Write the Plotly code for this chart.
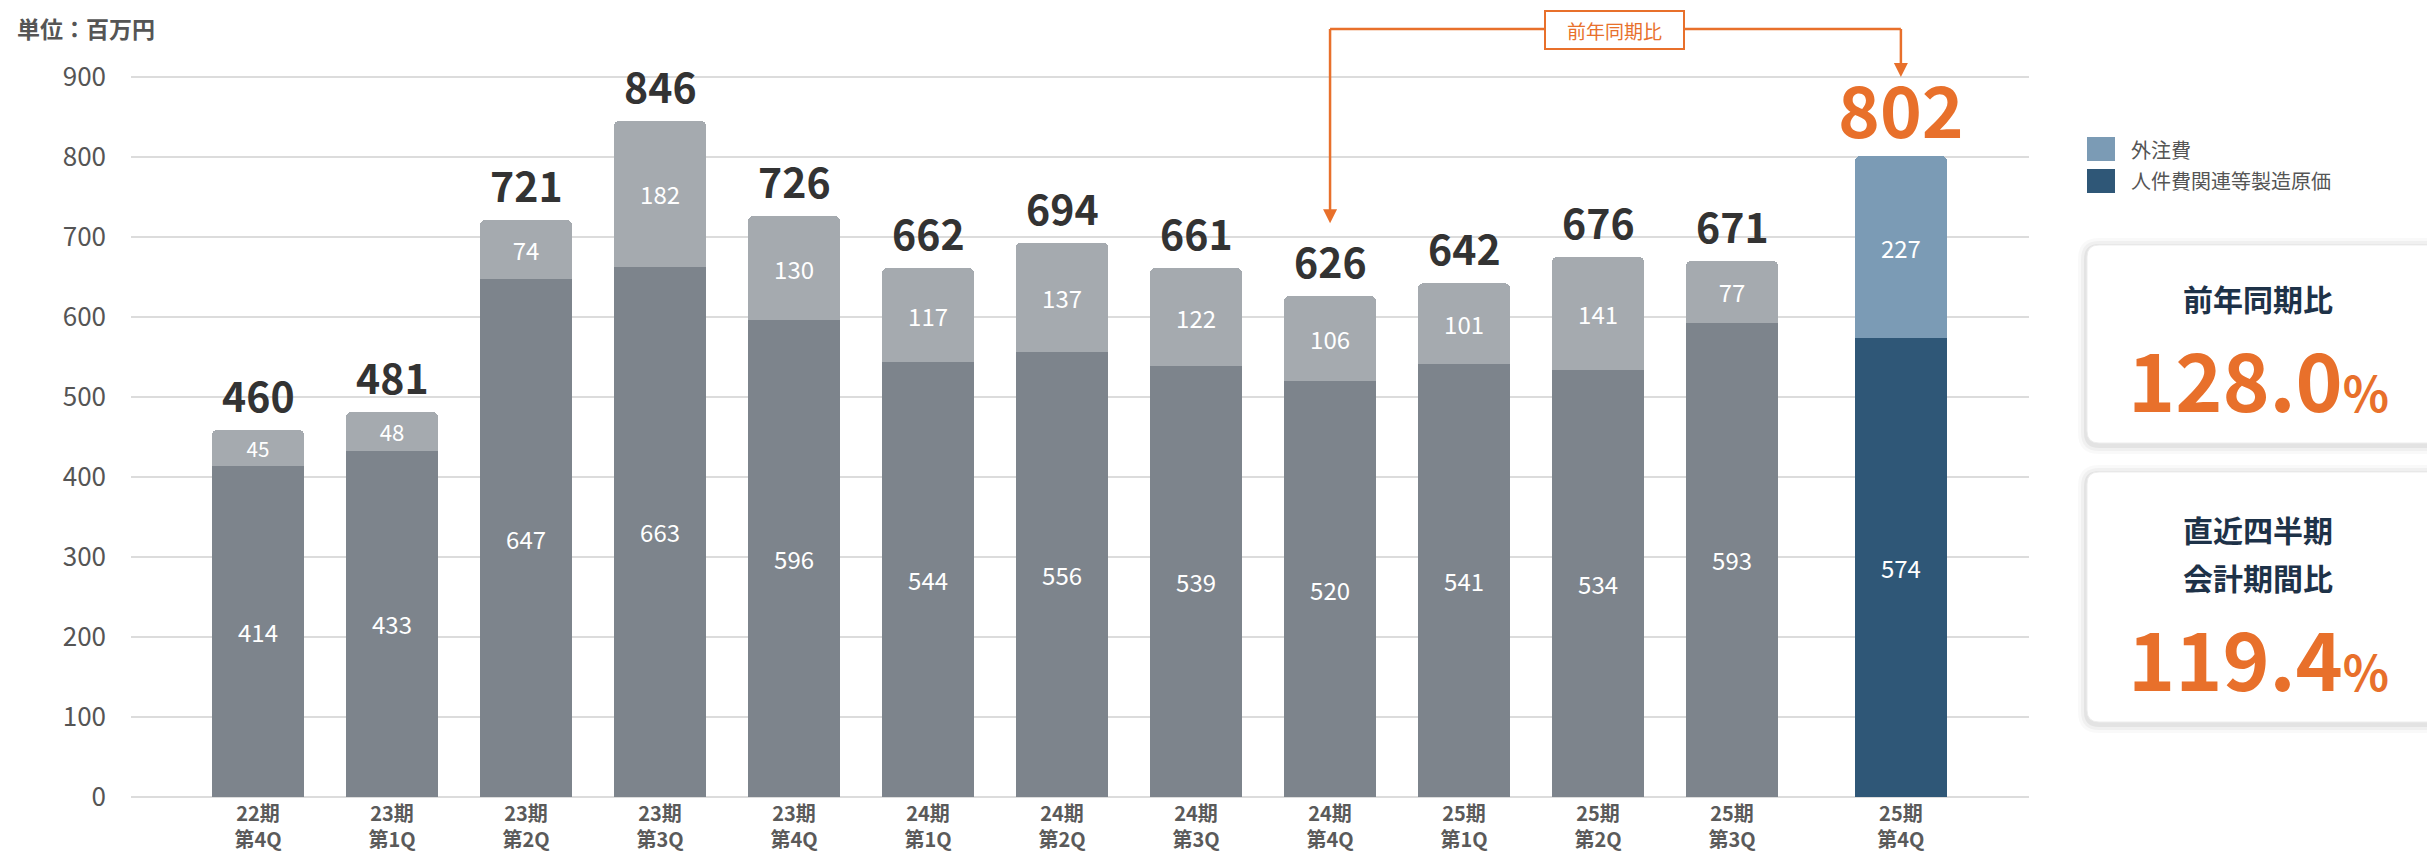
import plotly.graph_objects as go

# ---- data (単位：百万円) ----
periods = ["22期", "23期", "23期", "23期", "23期", "24期", "24期", "24期", "24期",
           "25期", "25期", "25期", "25期"]
quarters = ["第4Q", "第1Q", "第2Q", "第3Q", "第4Q", "第1Q", "第2Q", "第3Q", "第4Q",
            "第1Q", "第2Q", "第3Q", "第4Q"]
labor_cost = [414, 433, 647, 663, 596, 544, 556, 539, 520, 541, 534, 593, 574]
outsourcing = [45, 48, 74, 182, 130, 117, 137, 122, 106, 101, 141, 77, 227]
totals = [460, 481, 721, 846, 726, 662, 694, 661, 626, 642, 676, 671, 802]
yoy_rate = "128.0"
qoq_rate = "119.4"
y_ticks = [0, 100, 200, 300, 400, 500, 600, 700, 800, 900]

# ---- styling ----
FONT = "Noto Sans CJK JP"
GRAY_DARK = "#7d848c"
GRAY_LIGHT = "#a5aaaf"
BLUE_DARK = "#2f5777"
BLUE_LIGHT = "#7b9bb5"
ORANGE = "#e8702b"
NAVY = "#1e3248"
TEXT_GRAY = "#555555"

W, H = 2427, 855
ML, MR, MT, MB = 131, 398, 10, 58
PW, PH = W - ML - MR, H - MT - MB

# last quarter is set apart with an extra gap
x_pos = [float(i) for i in range(len(periods) - 1)] + [len(periods) - 1 + 0.26]
tick_text = [f"<b>{p}</b><br><b>{q}</b>" for p, q in zip(periods, quarters)]
bar_tops = [a + b for a, b in zip(labor_cost, outsourcing)]

X_MIN, X_MAX = -0.948, 13.216
Y_MAX = PH / 0.8  # 80 px per 100


def px_x(px):
    return (px - ML) / PW


def px_y(py):
    return (MT + PH - py) / PH


def ux(px_len):
    return px_len * (X_MAX - X_MIN) / PW


def uy(px_len):
    return px_len * Y_MAX / PH


fig = go.Figure()

n_hist = len(periods) - 1
bar_w = 0.687
common = dict(width=bar_w, textposition="inside", insidetextanchor="middle",
              textangle=0, constraintext="none",
              textfont=dict(family=FONT, size=24, color="white"),
              hoverinfo="skip", showlegend=False)

fig.add_trace(go.Bar(x=x_pos[:n_hist], y=labor_cost[:n_hist],
                     text=[str(v) for v in labor_cost[:n_hist]],
                     marker=dict(color=GRAY_DARK, line=dict(width=0)), **common))
fig.add_trace(go.Bar(x=x_pos[n_hist:], y=labor_cost[n_hist:],
                     text=[str(v) for v in labor_cost[n_hist:]],
                     marker=dict(color=BLUE_DARK, line=dict(width=0)), **common))
fig.add_trace(go.Bar(x=x_pos[:n_hist], y=outsourcing[:n_hist],
                     text=[str(v) for v in outsourcing[:n_hist]],
                     marker=dict(color=GRAY_LIGHT, line=dict(width=0)), **common))
fig.add_trace(go.Bar(x=x_pos[n_hist:], y=outsourcing[n_hist:],
                     text=[str(v) for v in outsourcing[n_hist:]],
                     marker=dict(color=BLUE_LIGHT, line=dict(width=0)), **common))

annotations = []
shapes = []

# totals above each bar
for i, (xv, top, tot) in enumerate(zip(x_pos, bar_tops, totals)):
    last = i == len(x_pos) - 1
    annotations.append(dict(
        x=xv, y=top, xref="x", yref="y", text=f"<b>{tot}</b>", showarrow=False,
        xanchor="center", yanchor="bottom", yshift=-4 if last else 4,
        font=dict(family=FONT, size=71 if last else 41,
                  color=ORANGE if last else "#333333")))

# unit label
annotations.append(dict(x=px_x(15), y=px_y(28), xref="paper", yref="paper",
                        xanchor="left", yanchor="middle", showarrow=False,
                        text="<b>単位：百万円</b>",
                        font=dict(family=FONT, size=23, color=TEXT_GRAY)))

# year-over-year bracket between 24期第4Q and 25期第4Q
x_a, x_b = x_pos[8], x_pos[12]
y_line = uy(MT + PH - 29)
box_x0, box_x1 = X_MIN + ux(1545 - ML), X_MIN + ux(1684 - ML)
box_y0, box_y1 = uy(MT + PH - 49), uy(MT + PH - 11)
tip_a = bar_tops[8] + uy(73)
tip_b = 900
line_style = dict(color=ORANGE, width=2.5)
shapes += [
    dict(type="line", xref="x", yref="y", x0=x_a, x1=x_a, y0=y_line, y1=tip_a + uy(12), line=line_style),
    dict(type="line", xref="x", yref="y", x0=x_a, x1=box_x0, y0=y_line, y1=y_line, line=line_style),
    dict(type="line", xref="x", yref="y", x0=box_x1, x1=x_b, y0=y_line, y1=y_line, line=line_style),
    dict(type="line", xref="x", yref="y", x0=x_b, x1=x_b, y0=y_line, y1=tip_b + uy(12), line=line_style),
    dict(type="rect", xref="x", yref="y", x0=box_x0, x1=box_x1, y0=box_y0, y1=box_y1,
         line=dict(color=ORANGE, width=2), fillcolor="white"),
]
for xt, yt in [(x_a, tip_a), (x_b, tip_b)]:
    dx, dy = ux(7), uy(14)
    shapes.append(dict(type="path", xref="x", yref="y",
                       path=f"M {xt-dx},{yt+dy} L {xt+dx},{yt+dy} L {xt},{yt} Z",
                       fillcolor=ORANGE, line=dict(width=0)))
annotations.append(dict(x=(box_x0 + box_x1) / 2, y=(box_y0 + box_y1) / 2, xref="x", yref="y",
                        xanchor="center", yanchor="middle",
                        text="前年同期比", showarrow=False,
                        font=dict(family=FONT, size=19, color=ORANGE)))

# legend
legend_items = [("外注費", BLUE_LIGHT, 149), ("人件費関連等製造原価", BLUE_DARK, 181)]
for label, color, yc in legend_items:
    shapes.append(dict(type="rect", xref="paper", yref="paper",
                       x0=px_x(2087), x1=px_x(2115), y0=px_y(yc + 12), y1=px_y(yc - 12),
                       fillcolor=color, line=dict(width=0)))
    annotations.append(dict(x=px_x(2129), y=px_y(yc), xref="paper", yref="paper",
                            xanchor="left", yanchor="middle", showarrow=False, text=label,
                            font=dict(family=FONT, size=20, color=TEXT_GRAY)))


def rounded_rect(x0, y0, x1, y1, r):
    rx, ry = r / PW, r / PH
    X0, X1 = px_x(x0), px_x(x1)
    Y0, Y1 = px_y(y1), px_y(y0)  # bottom, top in paper
    return (f"M {X0+rx},{Y1} L {X1-rx},{Y1} Q {X1},{Y1} {X1},{Y1-ry} "
            f"L {X1},{Y0+ry} Q {X1},{Y0} {X1-rx},{Y0} L {X0+rx},{Y0} "
            f"Q {X0},{Y0} {X0},{Y0+ry} L {X0},{Y1-ry} Q {X0},{Y1} {X0+rx},{Y1} Z")


# summary cards with a soft shadow
cards = [(2087, 245, 2445, 443), (2087, 472, 2445, 722)]
for x0, y0, x1, y1 in cards:
    for k, op in [(9, 0.025), (6, 0.035), (3, 0.05)]:
        shapes.append(dict(type="path", xref="paper", yref="paper",
                           path=rounded_rect(x0 - k, y0 - k + 2, x1 + k, y1 + k + 2, 12 + k),
                           fillcolor=f"rgba(0,0,0,{op})", line=dict(width=0), layer="below"))
    shapes.append(dict(type="path", xref="paper", yref="paper",
                       path=rounded_rect(x0, y0, x1, y1, 12),
                       fillcolor="white", line=dict(color="#ededed", width=1), layer="below"))

card_cx = px_x(2258)
card_text = [
    ("<b>前年同期比</b>", 298, 30, NAVY),
    (f"<b>{yoy_rate}<span style='font-size:48px'>%</span></b>", 377, 80, ORANGE),
    ("<b>直近四半期</b>", 529, 30, NAVY),
    ("<b>会計期間比</b>", 577, 30, NAVY),
    (f"<b>{qoq_rate}<span style='font-size:48px'>%</span></b>", 656, 80, ORANGE),
]
for txt, yc, size, color in card_text:
    annotations.append(dict(x=card_cx, y=px_y(yc), xref="paper", yref="paper",
                            xanchor="center", yanchor="middle", showarrow=False,
                            text=txt, font=dict(family=FONT, size=size, color=color)))

fig.update_layout(
    width=W, height=H,
    margin=dict(l=ML, r=MR, t=MT, b=MB, pad=0, autoexpand=False),
    paper_bgcolor="white", plot_bgcolor="white",
    barmode="stack", barcornerradius=5,
    showlegend=False,
    font=dict(family=FONT, color=TEXT_GRAY),
    xaxis=dict(range=[X_MIN, X_MAX], tickmode="array", tickvals=x_pos, ticktext=tick_text,
               showgrid=False, zeroline=False, showline=False, ticks="",
               automargin=False, ticklabelstandoff=3,
               tickfont=dict(family=FONT, size=20, color="#5a5a5a")),
    yaxis=dict(range=[0, Y_MAX], tickmode="array", tickvals=y_ticks,
               showgrid=True, gridcolor="#dcdcdc", gridwidth=2,
               zeroline=True, zerolinecolor="#dcdcdc", zerolinewidth=2,
               showline=False, ticks="", ticklabelstandoff=24, automargin=False,
               tickfont=dict(family=FONT, size=26, color=TEXT_GRAY)),
    shapes=shapes,
    annotations=annotations,
)

fig.write_html("out.html")
